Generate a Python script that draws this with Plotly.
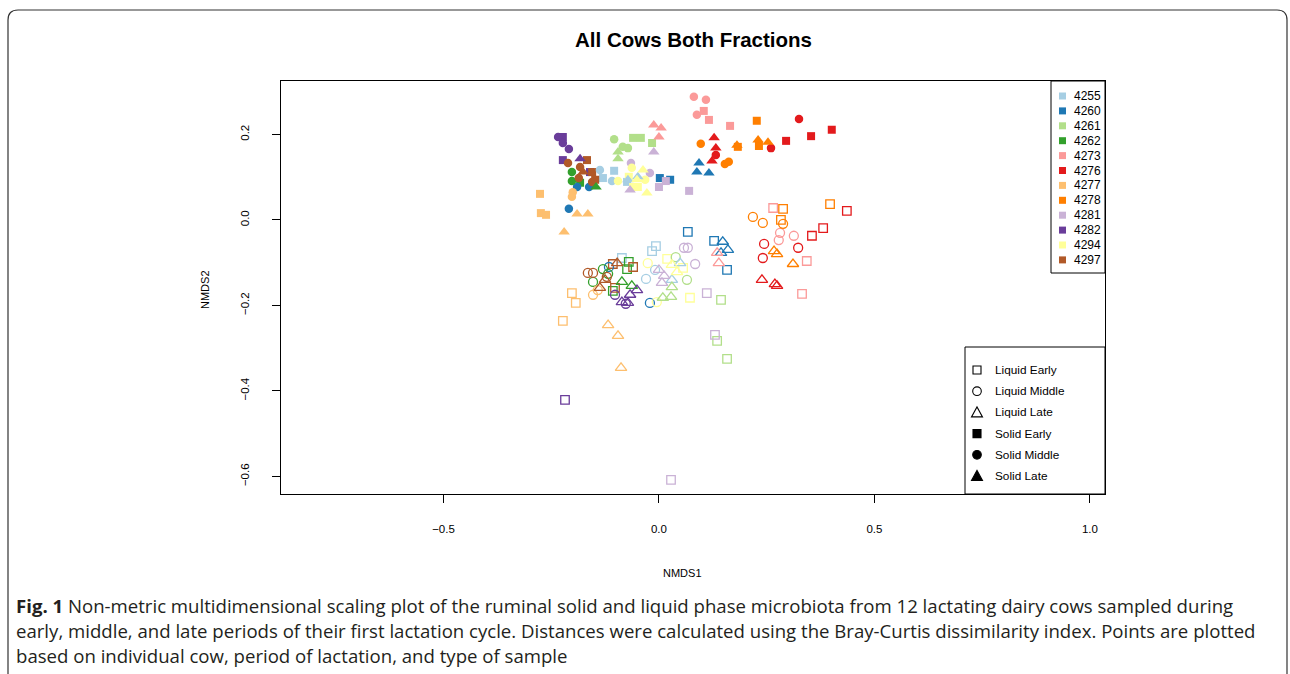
import plotly.graph_objects as go

# ---------------- data ----------------
cows = ["4255", "4260", "4261", "4262", "4273", "4276", "4277", "4278", "4281", "4282", "4294", "4297"]
cow_colors = ["#A6CEE3", "#1F78B4", "#B2DF8A", "#33A02C", "#FB9A99", "#E31A1C",
              "#FDBF6F", "#FF7F00", "#CAB2D6", "#6A3D9A", "#FFFF99", "#B15928"]
sample_types = ["Liquid Early", "Liquid Middle", "Liquid Late", "Solid Early", "Solid Middle", "Solid Late"]

x_ticks = [-0.5, 0.0, 0.5, 1.0]
y_ticks = [-0.6, -0.4, -0.2, 0.0, 0.2]

# Liquid Early
le_cow = ["4255"]*3 + ["4260"]*3 + ["4261"]*3 + ["4262"]*3 + ["4273"]*3 + ["4276"]*3 + \
         ["4277"]*3 + ["4278"]*3 + ["4281"]*3 + ["4282"] + ["4294"]*3 + ["4297"]*3
le_x = [-0.007, -0.016, -0.086, 0.067, 0.128, 0.158, 0.144, 0.135, 0.158, -0.070, -0.074, -0.107,
        0.265, 0.343, 0.332, 0.436, 0.381, 0.355, -0.202, -0.193, -0.223, 0.397, 0.288, 0.283,
        0.111, 0.130, 0.028, -0.218, 0.019, 0.072, 0.056, -0.107, -0.060, -0.102]
le_y = [-0.061, -0.073, -0.089, -0.028, -0.049, -0.117, -0.187, -0.283, -0.325, -0.098, -0.115, -0.166,
        0.028, -0.096, -0.173, 0.021, -0.019, -0.037, -0.171, -0.194, -0.236, 0.037, 0.026, 0.000,
        -0.171, -0.269, -0.608, -0.421, -0.091, -0.182, -0.112, -0.103, -0.110, -0.159]

# Liquid Middle
lm_cow = ["4255"]*2 + ["4260"]*2 + ["4261"]*2 + ["4262"]*3 + ["4273"]*3 + ["4276"]*3 + \
         ["4277"]*2 + ["4278"]*3 + ["4281"]*3 + ["4282"]*2 + ["4294"]*2 + ["4297"]*3
lm_x = [-0.030, -0.009, -0.021, -0.116, 0.039, 0.065, -0.130, -0.153, -0.118,
        0.281, 0.278, 0.313, 0.244, 0.241, 0.323, -0.153, -0.142, 0.218, 0.241, 0.288,
        0.058, 0.067, 0.084, -0.102, -0.077, -0.026, -0.005, -0.165, -0.153, -0.121]
lm_y = [-0.138, -0.117, -0.194, -0.110, -0.087, -0.140, -0.115, -0.145, -0.126,
        -0.030, -0.047, -0.037, -0.056, -0.089, -0.065, -0.175, -0.164, 0.007, -0.007, -0.009,
        -0.065, -0.065, -0.103, -0.175, -0.196, -0.101, -0.192, -0.124, -0.124, -0.133]

# Liquid Late
ll_cow = ["4255"]*2 + ["4260"]*3 + ["4261"]*3 + ["4262"]*2 + ["4273"]*2 + ["4276"]*3 + \
         ["4277"]*3 + ["4278"]*3 + ["4281"]*3 + ["4282"]*4 + ["4294"]*2 + ["4297"]*3
ll_x = [0.030, 0.049, 0.148, 0.160, 0.144, 0.030, 0.009, 0.028, -0.086, -0.063,
        0.135, 0.139, 0.239, 0.269, 0.274, -0.118, -0.095, -0.088, 0.267, 0.274, 0.311,
        0.000, 0.007, 0.012, -0.086, -0.072, -0.051, -0.067, 0.042, 0.030, -0.097, -0.137, -0.125]
ll_y = [-0.140, -0.101, -0.051, -0.070, -0.077, -0.157, -0.182, -0.180, -0.145, -0.154,
        -0.077, -0.101, -0.140, -0.150, -0.154, -0.246, -0.271, -0.346, -0.073, -0.080, -0.103,
        -0.117, -0.147, -0.131, -0.192, -0.194, -0.164, -0.175, -0.122, -0.105, -0.101, -0.159, -0.140]

# Solid Early
se_cow = ["4255"]*3 + ["4260"]*2 + ["4261"]*3 + ["4262"] + ["4273"]*3 + ["4276"]*3 + \
         ["4277"]*3 + ["4278"]*3 + ["4281"]*3 + ["4282"]*3 + ["4294"]*3 + ["4297"]*3
se_x = [-0.104, -0.130, -0.074, 0.002, 0.026, -0.060, -0.042, -0.016, -0.183,
        0.104, 0.116, 0.165, 0.295, 0.353, 0.401, -0.276, -0.274, -0.262, 0.227, 0.183, 0.232,
        0.016, 0.000, 0.070, -0.223, -0.223, -0.160, -0.070, -0.060, -0.049, -0.167, -0.155, -0.148]
se_y = [0.115, 0.098, 0.089, 0.098, 0.094, 0.192, 0.192, 0.180, 0.087,
        0.255, 0.234, 0.220, 0.185, 0.196, 0.211, 0.061, 0.016, 0.012, 0.232, 0.171, 0.173,
        0.091, 0.077, 0.068, 0.194, 0.140, 0.112, 0.101, 0.077, 0.077, 0.140, 0.112, 0.094]

# Solid Middle
sm_cow = ["4255"]*2 + ["4260"]*3 + ["4261"]*3 + ["4262"]*2 + ["4273"]*3 + ["4276"]*3 + \
         ["4277"]*2 + ["4278"]*3 + ["4281"]*2 + ["4282"]*3 + ["4294"]*3 + ["4297"]*4
sm_x = [-0.137, -0.109, -0.190, -0.162, -0.209, -0.104, -0.084, -0.072, -0.202, -0.202,
        0.081, 0.109, 0.088, 0.325, 0.260, 0.132, -0.200, -0.202, 0.097, 0.153, 0.162,
        -0.065, -0.021, -0.234, -0.223, -0.209, -0.063, -0.095, -0.032, -0.211, -0.183, -0.186, -0.155]
sm_y = [0.117, 0.091, 0.077, 0.077, 0.026, 0.189, 0.171, 0.168, 0.112, 0.091,
        0.288, 0.281, 0.246, 0.236, 0.168, 0.152, 0.065, 0.054, 0.178, 0.131, 0.136,
        0.133, 0.110, 0.194, 0.180, 0.166, 0.122, 0.091, 0.094, 0.133, 0.124, 0.098, 0.089]

# Solid Late
sl_cow = ["4255"]*2 + ["4260"]*3 + ["4261"]*2 + ["4262"] + ["4273"]*3 + ["4276"]*3 + \
         ["4277"]*3 + ["4278"]*3 + ["4281"]*2 + ["4282"] + ["4294"]*3 + ["4297"]
sl_x = [-0.049, -0.072, 0.093, 0.088, 0.116, -0.095, -0.095, -0.146,
        -0.012, 0.005, 0.000, 0.128, 0.132, 0.123, -0.190, -0.165, -0.220, 0.230, 0.253, 0.181,
        -0.012, -0.067, -0.183, -0.037, -0.028, -0.051, -0.176]
sl_y = [0.101, 0.094, 0.133, 0.112, 0.110, 0.159, 0.143, 0.077,
        0.222, 0.215, 0.194, 0.192, 0.168, 0.138, 0.014, 0.014, -0.028, 0.187, 0.182, 0.175,
        0.159, 0.070, 0.143, 0.117, 0.063, 0.094, 0.112]

# ---------------- figure ----------------
W, H = 1290, 674
PL, PR, PT, PB = 281, 1105, 81, 494  # plot area in pixels


def fx(p):
    return (p - PL) / (PR - PL)


def fy(p):
    return (PB - p) / (PB - PT)


type_data = [
    ("Liquid Early", le_cow, le_x, le_y, "square-open", 8.5),
    ("Liquid Middle", lm_cow, lm_x, lm_y, "circle-open", 9),
    ("Liquid Late", ll_cow, ll_x, ll_y, "triangle-up-open", 10),
    ("Solid Early", se_cow, se_x, se_y, "square", 8),
    ("Solid Middle", sm_cow, sm_x, sm_y, "circle", 8.5),
    ("Solid Late", sl_cow, sl_x, sl_y, "triangle-up", 10),
]

fig = go.Figure()
for tname, tc, tx, ty, sym, size in type_data:
    for cow, col in zip(cows, cow_colors):
        xs = [x for c, x in zip(tc, tx) if c == cow]
        ys = [y for c, y in zip(tc, ty) if c == cow]
        if not xs:
            continue
        fig.add_trace(go.Scatter(
            x=xs, y=ys, mode="markers", name=f"{cow} {tname}", showlegend=False,
            marker=dict(symbol=sym, size=size, color=col,
                        line=dict(width=1.3 if "open" in sym else 0, color=col)),
        ))

shapes = []
annotations = []

# outer rounded frame
r = 10
x0, y0, x1, y1 = 8, 10, 1287, 710
def P(x, y):
    return f"{fx(x):.5f},{fy(y):.5f}"
path = (f"M {P(x0 + r, y0)} L {P(x1 - r, y0)} Q {P(x1, y0)} {P(x1, y0 + r)} "
        f"L {P(x1, y1 - r)} Q {P(x1, y1)} {P(x1 - r, y1)} L {P(x0 + r, y1)} "
        f"Q {P(x0, y1)} {P(x0, y1 - r)} L {P(x0, y0 + r)} Q {P(x0, y0)} {P(x0 + r, y0)} Z")
shapes.append(dict(type="path", xref="paper", yref="paper", path=path,
                   line=dict(color="#333333", width=1.2)))

# cow legend
shapes.append(dict(type="rect", xref="paper", yref="paper", x0=fx(1051), x1=fx(PR), y0=fy(273), y1=fy(PT),
                   line=dict(color="black", width=1), fillcolor="white", layer="above"))
for i, (cow, col) in enumerate(zip(cows, cow_colors)):
    cy = 96 + i * 14.9
    shapes.append(dict(type="rect", xref="paper", yref="paper", x0=fx(1059), x1=fx(1066),
                       y0=fy(cy + 3.5), y1=fy(cy - 3.5), line=dict(width=0), fillcolor=col, layer="above"))
    annotations.append(dict(xref="paper", yref="paper", x=fx(1072), y=fy(cy), text=cow, showarrow=False,
                            xanchor="left", yanchor="middle", font=dict(size=12, color="black")))

# sample-type legend
shapes.append(dict(type="rect", xref="paper", yref="paper", x0=fx(965), x1=fx(PR), y0=fy(PB), y1=fy(347),
                   line=dict(color="black", width=1), fillcolor="white", layer="above"))
sx = 977
for i, tname in enumerate(sample_types):
    cy = 370 + i * 21.2
    filled = tname.startswith("Solid")
    fill = "black" if filled else "rgba(0,0,0,0)"
    kind = tname.split()[1]
    if kind == "Early":
        h = 4
        shapes.append(dict(type="rect", xref="paper", yref="paper", x0=fx(sx - h), x1=fx(sx + h),
                           y0=fy(cy + h), y1=fy(cy - h), line=dict(color="black", width=1.1),
                           fillcolor=fill, layer="above"))
    elif kind == "Middle":
        h = 4.3
        shapes.append(dict(type="circle", xref="paper", yref="paper", x0=fx(sx - h), x1=fx(sx + h),
                           y0=fy(cy + h), y1=fy(cy - h), line=dict(color="black", width=1.1),
                           fillcolor=fill, layer="above"))
    else:
        tp = f"M {P(sx - 5.5, cy + 4.5)} L {P(sx + 5.5, cy + 4.5)} L {P(sx, cy - 5.5)} Z"
        shapes.append(dict(type="path", xref="paper", yref="paper", path=tp,
                           line=dict(color="black", width=1.1), fillcolor=fill, layer="above"))
    annotations.append(dict(xref="paper", yref="paper", x=fx(993), y=fy(cy), text=tname, showarrow=False,
                            xanchor="left", yanchor="middle", font=dict(size=11.8, color="black")))

# axis titles
annotations.append(dict(xref="paper", yref="paper", x=fx(682), y=fy(573), text="NMDS1", showarrow=False,
                        xanchor="center", yanchor="middle", font=dict(size=11, color="black")))
annotations.append(dict(xref="paper", yref="paper", x=fx(205), y=fy(290), text="NMDS2", showarrow=False,
                        textangle=-90, xanchor="center", yanchor="middle", font=dict(size=11, color="black")))

# title
annotations.append(dict(xref="paper", yref="paper", x=fx(693), y=fy(39), text="<b>All Cows Both Fractions</b>",
                        showarrow=False, xanchor="center", yanchor="middle",
                        font=dict(size=20.5, color="black")))

# caption
caption_lines = [
    "<b>Fig. 1</b> Non-metric multidimensional scaling plot of the ruminal solid and liquid phase microbiota "
    "from 12 lactating dairy cows sampled during",
    "early, middle, and late periods of their first lactation cycle. Distances were calculated using the "
    "Bray-Curtis dissimilarity index. Points are plotted",
    "based on individual cow, period of lactation, and type of sample",
]
for i, line in enumerate(caption_lines):
    annotations.append(dict(xref="paper", yref="paper", x=fx(14), y=fy(605 + i * 25), text=line,
                            showarrow=False, xanchor="left", yanchor="middle",
                            font=dict(family="Open Sans", size=18.6, color="#231F20")))

axis_common = dict(showgrid=False, zeroline=False, showline=True, mirror=True, linecolor="black",
                   linewidth=1, ticks="outside", ticklen=8, tickcolor="black", tickwidth=1,
                   tickfont=dict(size=11.5, color="black"), tickformat=".1f")

fig.update_layout(
    width=W, height=H,
    margin=dict(l=PL, r=W - PR, t=PT, b=H - PB, pad=0),
    paper_bgcolor="white", plot_bgcolor="white",
    font=dict(family="Liberation Sans, Arial, sans-serif", color="black"),
    xaxis=dict(range=[-0.877, 1.035], tickvals=x_ticks, ticklabelstandoff=16, **axis_common),
    yaxis=dict(range=[-0.641, 0.325], tickvals=y_ticks, tickangle=-90, ticklabelstandoff=18, **axis_common),
    shapes=shapes, annotations=annotations, showlegend=False,
)

fig.write_html("out.html", config={"displayModeBar": False},
               post_script="document.body.style.margin='0';")
